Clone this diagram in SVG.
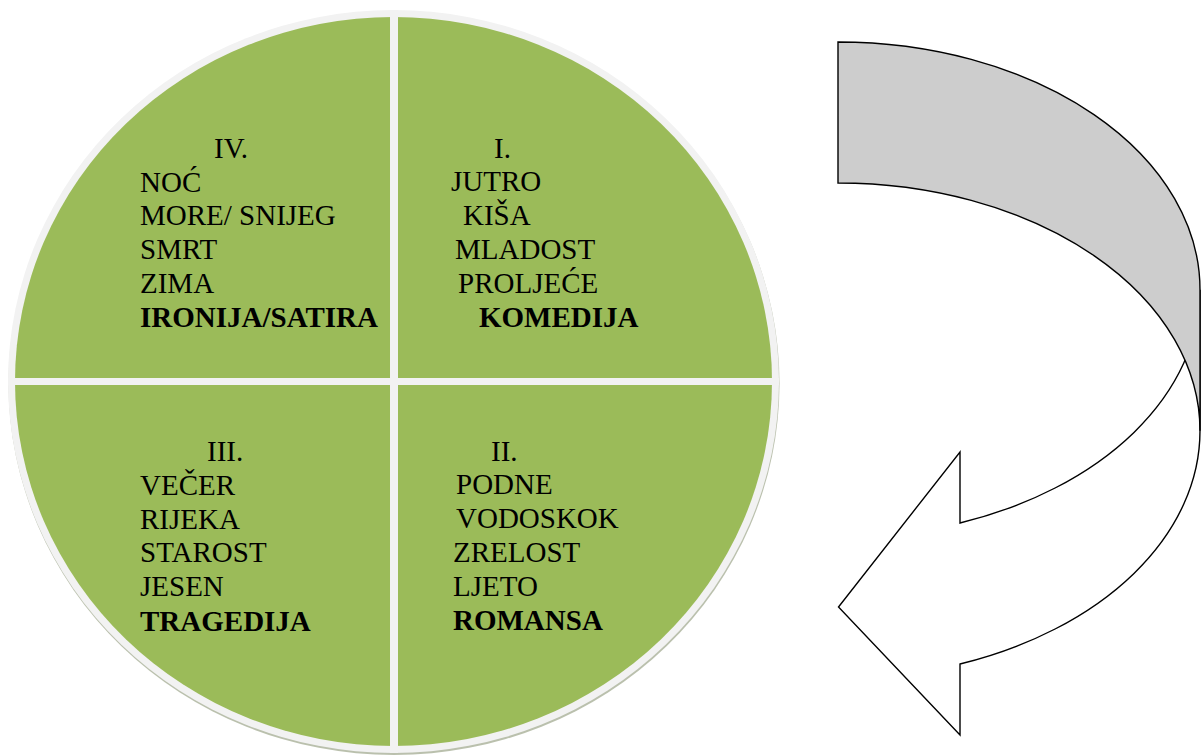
<svg xmlns="http://www.w3.org/2000/svg" width="1201" height="756" viewBox="0 0 1201 756">
<style>
.t{font-family:"Liberation Serif","Times New Roman",serif;font-size:29px;fill:#000}
.b{font-weight:bold}
.div{fill:#F2F2F2}
.arr{stroke:#000;stroke-width:1.4;stroke-linejoin:miter}
</style>
<rect width="1201" height="756" fill="#fff"/>
<g id="wheel">
<ellipse cx="394" cy="383.5" rx="385.5" ry="371.5" fill="#a3ab92" opacity="0.75"/>
<ellipse cx="393.5" cy="381.5" rx="385.5" ry="371.5" fill="#F2F2F2"/>
<ellipse cx="393.5" cy="381.5" rx="378.5" ry="364.5" fill="#9BBB59"/>
<rect class="div" x="390" y="10" width="8" height="743"/>
<rect class="div" x="8" y="378" width="771" height="7"/>
</g>
<g id="q4">
<text class="t" x="214" y="158">IV.</text>
<text class="t" x="140" y="192">NOĆ</text>
<text class="t" x="140" y="225">MORE/ SNIJEG</text>
<text class="t" x="140" y="259">SMRT</text>
<text class="t" x="140" y="293">ZIMA</text>
<text class="t b" x="140" y="327">IRONIJA/SATIRA</text>
</g>
<g id="q1">
<text class="t" x="494" y="158">I.</text>
<text class="t" x="451" y="191">JUTRO</text>
<text class="t" x="463" y="225">KIŠA</text>
<text class="t" x="455" y="259">MLADOST</text>
<text class="t" x="458" y="293">PROLJEĆE</text>
<text class="t b" x="479" y="327">KOMEDIJA</text>
</g>
<g id="q3">
<text class="t" x="207" y="461">III.</text>
<text class="t" x="140" y="495">VEČER</text>
<text class="t" x="140" y="529">RIJEKA</text>
<text class="t" x="140" y="562">STAROST</text>
<text class="t" x="140" y="596">JESEN</text>
<text class="t b" x="140" y="631">TRAGEDIJA</text>
</g>
<g id="q2">
<text class="t" x="491" y="461">II.</text>
<text class="t" x="456" y="494">PODNE</text>
<text class="t" x="456" y="528">VODOSKOK</text>
<text class="t" x="453" y="562">ZRELOST</text>
<text class="t" x="453" y="596">LJETO</text>
<text class="t b" x="453" y="630">ROMANSA</text>
</g>
<g id="connectors">
<path class="arr" fill="#fff" d="M1200,289.75 A362,247.75 0 0 1 960,523 L960,452 L838.5,607 L960,735 L960,664 A362,247.75 0 0 0 1200,430.75 Z"/>
<path class="arr" fill="#CDCDCD" d="M838,42 A362,247.75 0 0 1 1200,289.75 L1200,430.75 A362,247.75 0 0 0 838,183 Z"/>
</g>
</svg>
